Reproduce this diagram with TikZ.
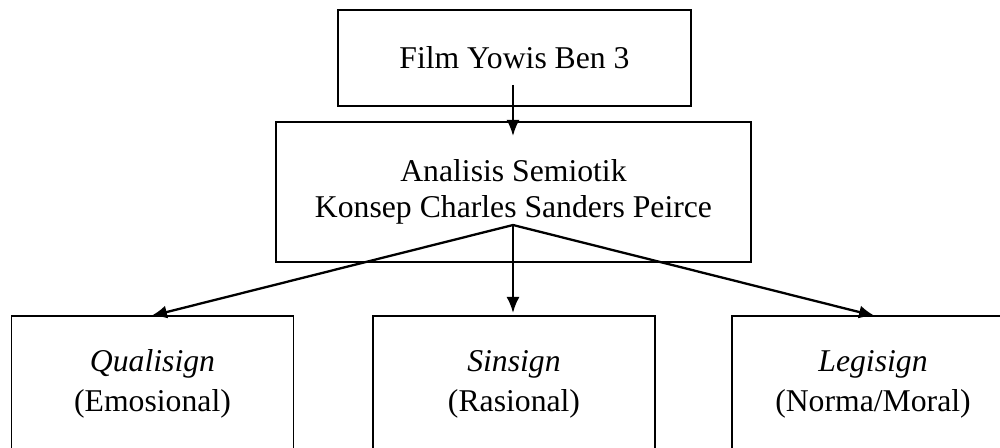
\documentclass[tikz,border=0pt]{standalone}
\usepackage{fontspec}
\setmainfont{Liberation Serif}
\usetikzlibrary{arrows.meta}
\begin{document}
\begin{tikzpicture}[x=0.5pt,y=-0.5pt,
	kotak/.style={draw,line width=0.85pt,align=center,inner sep=0pt,
		font=\fontsize{15.85}{18}\selectfont},
	bawah/.style={kotak,minimum width=141pt,minimum height=68pt,
		font=\fontsize{15.85}{20}\selectfont},
	panah/.style={line width=1.15pt,-{Latex[length=8pt,width=6.5pt]}}]
		\useasboundingbox (0,0) rectangle (1000,448);
		\clip (0,0) rectangle (1000,448);
		
		\node[kotak,minimum width=176.5pt,minimum height=48pt] (film) at (514.5,58){Film Yowis Ben 3};
		\node[kotak,minimum width=237.5pt,minimum height=70pt] (analisis) at (513.5,192)
		{Analisis Semiotik\\Konsep Charles Sanders Peirce};
		
		\node[bawah] (quali) at (152.5,384){\textit{Qualisign}\\(Emosional)};
		\node[bawah] (sin) at (514,384){\textit{Sinsign}\\(Rasional)};
		\node[bawah] (legi) at (873,384){\textit{Legisign}\\(Norma/Moral)};
		
		\coordinate (filmA) at (513,85);
		\coordinate (analisisA) at (513,136);
		\coordinate (cabang) at (513,225);
		\coordinate (qualiA) at (151,316);
		\coordinate (sinA) at (513,313);
		\coordinate (legiA) at (875,316);
		
		\draw[panah](filmA)--(analisisA);
		\draw[panah](cabang)--(qualiA);
		\draw[panah](cabang)--(sinA);
		\draw[panah](cabang)--(legiA);
		\end{tikzpicture}
\end{document}
